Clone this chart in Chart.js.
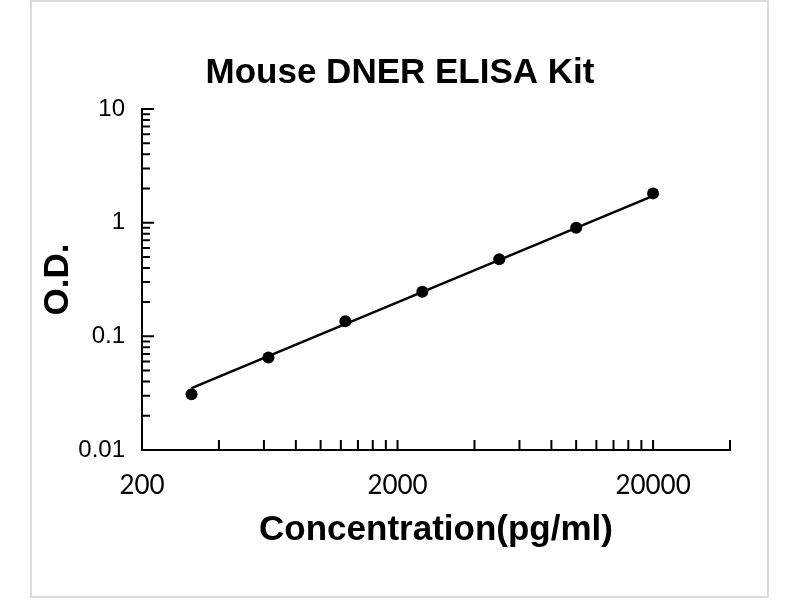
<!DOCTYPE html>
<html>
<head>
<meta charset="utf-8">
<script src="https://cdn.jsdelivr.net/npm/chart.js@4"></script>
<style>
  html, body { margin: 0; padding: 0; background: #fff; }
  canvas { display: block; }
</style>
</head>
<body>
<canvas id="c" width="800" height="600" style="width:800px;height:600px"></canvas>
<script>
// ---- data ----
const concentration = [312.5, 625, 1250, 2500, 5000, 10000, 20000];
const odValues      = [0.031, 0.065, 0.136, 0.247, 0.476, 0.903, 1.81];
const fitConc = [312.5, 20000];
const fitOD   = [0.035, 1.72];

const xTickVals   = [200, 2000, 20000];
const xTickLabels = ['200', '2000', '20000'];
const yTickVals   = [0.01, 0.1, 1, 10];
const yTickLabels = ['0.01', '0.1', '1', '10'];

const xMinorTicks = [400, 600, 800, 1000, 1200, 1400, 1600, 1800, 2000,
                     4000, 6000, 8000, 10000, 12000, 14000, 16000, 18000, 20000, 40000];
const yMajorTicks = [0.1, 1, 10];
const yMinorTicks = [0.02, 0.03, 0.04, 0.05, 0.06, 0.07, 0.08, 0.09,
                     0.2, 0.3, 0.4, 0.5, 0.6, 0.7, 0.8, 0.9,
                     2, 3, 4, 5, 6, 7, 8, 9];

const titleText = 'Mouse DNER ELISA Kit';
const xTitle = 'Concentration(pg/ml)';
const yTitle = 'O.D.';

// ---- plugin: page frame + inside tick marks ----
const frameTicks = {
  id: 'frameTicks',
  beforeDraw(chart) {
    const ctx = chart.ctx;
    ctx.save();
    ctx.fillStyle = '#ffffff';
    ctx.fillRect(0, 0, chart.width, chart.height);
    ctx.strokeStyle = '#cfcfcf';
    ctx.lineWidth = 1.5;
    ctx.strokeRect(31, 1, 737, 596);
    ctx.restore();
  },
  afterDraw(chart) {
    const {ctx, scales: {x, y}} = chart;
    ctx.save();
    ctx.strokeStyle = '#000';
    ctx.lineWidth = 2;
    ctx.beginPath();
    xMinorTicks.forEach(v => {
      const px = x.getPixelForValue(v);
      ctx.moveTo(px, y.bottom);
      ctx.lineTo(px, y.bottom - 10);
    });
    yMajorTicks.forEach(v => {
      const py = y.getPixelForValue(v);
      ctx.moveTo(x.left, py);
      ctx.lineTo(x.left + 12, py);
    });
    yMinorTicks.forEach(v => {
      const py = y.getPixelForValue(v);
      ctx.moveTo(x.left, py);
      ctx.lineTo(x.left + 8, py);
    });
    ctx.stroke();
    ctx.restore();
  }
};

new Chart(document.getElementById('c'), {
  type: 'scatter',
  data: {
    datasets: [
      {
        label: 'Fit',
        data: fitConc.map((c, i) => ({x: c, y: fitOD[i]})),
        showLine: true,
        borderColor: '#000',
        borderWidth: 2.5,
        pointRadius: 0,
        fill: false
      },
      {
        label: 'O.D.',
        data: concentration.map((c, i) => ({x: c, y: odValues[i]})),
        showLine: false,
        backgroundColor: '#000',
        borderColor: '#000',
        pointRadius: 6,
        pointBorderWidth: 0
      }
    ]
  },
  options: {
    responsive: false,
    animation: false,
    devicePixelRatio: 1,
    layout: { padding: { left: 0, right: 0, top: 0, bottom: 0 } },
    plugins: {
      legend: { display: false },
      tooltip: { enabled: false },
      title: {
        display: true,
        text: titleText,
        color: '#000',
        font: { family: 'Liberation Sans, Arial, sans-serif', size: 35, weight: 'bold', lineHeight: 1.2 },
        padding: { top: 52, bottom: 15 }
      }
    },
    scales: {
      x: {
        type: 'logarithmic',
        position: 'bottom',
        min: 200,
        max: 40000,
        afterFit(s) { s.height = 150; },
        afterBuildTicks(s) { s.ticks = xTickVals.map(v => ({value: v})); },
        grid: { display: false, drawTicks: false },
        border: { display: true, color: '#000', width: 2 },
        ticks: {
          color: '#000',
          padding: 20,
          maxRotation: 0,
          autoSkip: false,
          font: { family: 'Lato, Carlito, sans-serif', size: 26 },
          callback: (v, i) => xTickLabels[i]
        },
        title: {
          display: true,
          text: xTitle,
          color: '#000',
          font: { family: 'Liberation Sans, Arial, sans-serif', size: 35, weight: 'bold', lineHeight: 1.2 },
          padding: { top: 0, bottom: 49 }
        }
      },
      y: {
        type: 'logarithmic',
        position: 'left',
        min: 0.01,
        max: 10,
        afterFit(s) { s.width = 142; },
        afterBuildTicks(s) { s.ticks = yTickVals.map(v => ({value: v})); },
        grid: { display: false, drawTicks: false },
        border: { display: true, color: '#000', width: 2 },
        ticks: {
          color: '#000',
          padding: 17,
          autoSkip: false,
          font: { family: 'Liberation Sans, Arial, sans-serif', size: 24 },
          callback: (v, i) => yTickLabels[i]
        },
        title: {
          display: true,
          text: yTitle,
          color: '#000',
          font: { family: 'Liberation Sans, Arial, sans-serif', size: 35, weight: 'bold', lineHeight: 1.2 },
          padding: { top: 37, bottom: 0 }
        }
      },
      yRightSpace: {
        type: 'linear',
        position: 'right',
        display: true,
        afterFit(s) { s.width = 70; },
        grid: { display: false, drawTicks: false },
        border: { display: false },
        ticks: { display: false }
      }
    }
  },
  plugins: [frameTicks]
});
</script>
</body>
</html>
